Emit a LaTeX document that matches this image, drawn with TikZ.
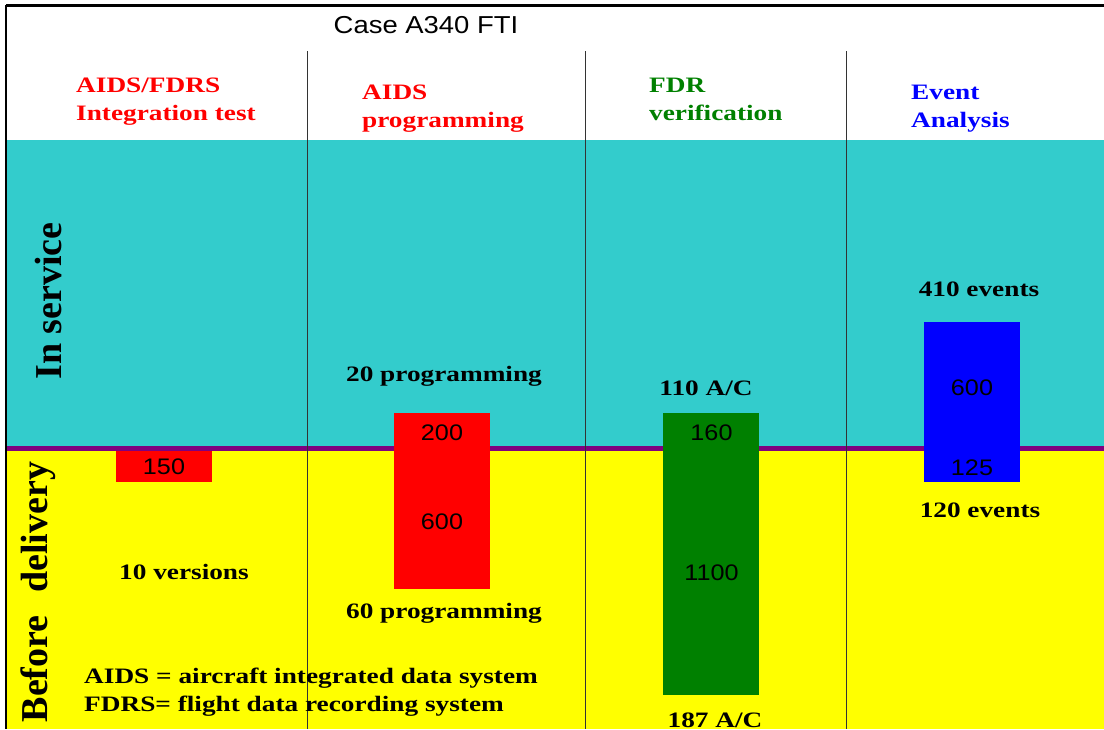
\documentclass[tikz,border=0pt]{standalone}
\usepackage{fontspec}
\setmainfont{Liberation Serif}
\newfontfamily\headfont[FakeStretch=1.24]{Liberation Serif}
\newfontfamily\numfont[FakeStretch=1.12]{Liberation Sans}
\usepackage{tikz}
\usetikzlibrary{positioning}
\definecolor{servicecyan}{HTML}{33CCCC}
\definecolor{deliveryyellow}{HTML}{FFFF00}
\definecolor{splitpurple}{HTML}{800080}
\definecolor{barred}{HTML}{FF0000}
\definecolor{bargreen}{HTML}{008000}
\definecolor{barblue}{HTML}{0000FF}
\tikzset{
  col head/.style  = {font=\headfont\bfseries\fontsize{22}{28}\selectfont,
                      anchor=base west, align=left, inner sep=0pt},
  count/.style     = {font=\headfont\bfseries\fontsize{22}{28}\selectfont,
                      anchor=base, inner sep=0pt},
  bar num/.style   = {font=\numfont\fontsize{22.5}{27}\selectfont, inner sep=0pt},
  bar/.style       = {rectangle, inner sep=0pt, anchor=north west},
  bar red/.style   = {bar, fill=barred},
  bar green/.style = {bar, fill=bargreen},
  bar blue/.style  = {bar, fill=barblue},
  phase/.style     = {font=\bfseries\fontsize{38}{40}\selectfont, rotate=90,
                      anchor=base, inner sep=0pt},
  col rule/.style  = {black!80, line width=1pt},
}

\begin{document}
\begin{tikzpicture}[x=1pt, y=-1pt]
\useasboundingbox (0,0) rectangle (1104,729);

% =====================================================================
% Background bands
% =====================================================================
\fill[servicecyan]    (7,140)   rectangle (1104,445.5);
\fill[splitpurple]    (7,445.5) rectangle (1104,451);
\fill[deliveryyellow] (7,451)   rectangle (1104,729);

% frame
\draw[line width=2.5pt] (6,5.5) -- (1104,5.5);
\draw[line width=2.5pt] (6,5) -- (6,729);

% column rules
\foreach \x in {307, 585, 846.5} {
  \draw[col rule] (\x,51) -- (\x,729);
}

% =====================================================================
% Title and column heads (base = last line)
% =====================================================================
\node[font=\numfont\fontsize{24.5}{28}\selectfont, anchor=base, inner sep=0pt]
      (title) at (426,33) {Case A340 FTI};

\node[col head, barred]   (headit)   at (76,120)    {AIDS/FDRS\\Integration test};
\node[col head, barred]   (headprog) at (362,127.5) {AIDS\\programming};
\node[col head, bargreen] (headfdr)  at (649,120)   {FDR\\verification};
\node[col head, barblue]  (headev)   at (911,127.5) {Event\\Analysis};

% Phase labels (rotated)
\node[phase] (inservice) at (61,301)  {In service};
\node[phase] (delivery)  at (47,592)  {Before\hspace{0.6em}delivery};

% =====================================================================
% Bars
% =====================================================================
\node[bar red, minimum width=96, minimum height=31]    (itbar)   at (116,451) {};
\node[bar num] (it150) at (164,467) {150};
\node[count]   (itver) at (184,579) {10 versions};

\node[bar red, minimum width=96, minimum height=176]   (progbar) at (394,413) {};
\node[bar num] (prog200) at (442,433) {200};
\node[bar num] (prog600) at (442,521.5) {600};
\node[count]   (progin)  at (444,381) {20 programming};
\node[count]   (progbd)  at (444,618) {60 programming};

\node[bar green, minimum width=96, minimum height=282] (fdrbar)  at (663,413) {};
\node[bar num] (fdr160)  at (711.5,432.5) {160};
\node[bar num] (fdr1100) at (711.5,573)   {1100};
\node[count]   (fdrin)   at (706,395.5)   {110 A/C};
\node[count]   (fdrbd)   at (715,727.5)   {187 A/C};

\node[bar blue, minimum width=96, minimum height=160]  (evbar)   at (924,322) {};
\node[bar num] (ev600) at (972,388) {600};
\node[bar num] (ev125) at (972,468) {125};
\node[count]   (evin)  at (979,296.5) {410 events};
\node[count]   (evbd)  at (980,517)   {120 events};

% Legend
\node[col head] (legend) at (84,711.5)
      {AIDS = aircraft integrated data system\\FDRS= flight data recording system};

\end{tikzpicture}
\end{document}
